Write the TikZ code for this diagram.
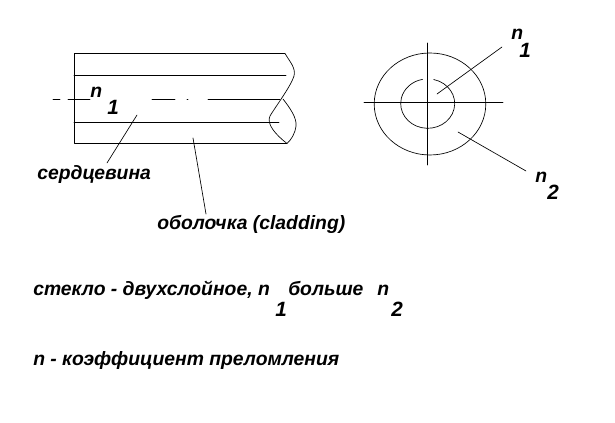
\documentclass[tikz,border=0pt]{standalone}
\usepackage{fontspec}
\setmainfont{Liberation Sans}
\tikzset{
  lbl/.style={font=\bfseries\itshape\fontsize{14.5}{16}\selectfont, inner sep=0pt, anchor=base west},
  ind/.style={font=\bfseries\itshape\fontsize{15.5}{17}\selectfont, inner sep=0pt},
  thinline/.style={line width=.65pt},
  fineline/.style={line width=.5pt}
}
\begin{document}
\begin{tikzpicture}[x=.75pt,y=-.75pt, line join=round, line cap=round]
    \useasboundingbox (0,0) rectangle (615,423);
    \def\cx{427} \def\cy{102.3} % center of the section
    % fibre, side view
    \draw[thinline] (285,53.5)--(74,53.5)--(74,143.5)--(287,143.5);
    \draw[thinline] (74,75)--(286,75);
    \draw[thinline] (74,122.5)--(279,122.5);
    \draw[thinline] (53,99.5)--(60,99.5) (68,99.5)--(90,99.5) (152,99.5)--(175,99.5)
        (187,99.5)--(188,99.5) (208,99.5)--(280,99.5);
    \draw[fineline] (285,53.5) .. controls (290,62) and (296,68) .. (294,76)
        .. controls (291,86) and (276,106) .. (270,116)
        .. controls (266,124) and (276,135) .. (287,143.5);
    \draw[fineline] (283,99) .. controls (290,108) and (297,118) .. (296,126)
        .. controls (295,134) and (291,140) .. (287,143.5);
    % fibre, cross-section
    \draw[fineline] (430,104) ellipse [x radius=55.8,y radius=51];
    \draw[fineline] (427.7,103.6) ++(283:27 and 24.7) arc [start angle=283,end angle=619,x radius=27,y radius=24.7];
    \draw[thinline] (364,\cy)--(503,\cy);
    \draw[thinline] (\cx,43)--(\cx,165);
    % labels
    \node[lbl] (nleft) at (90,98) {n};
    \node[ind] (nleftsub) at (113,107) {1};
    \node[lbl] (nright) at (511,40) {n};
    \node[ind] (nrightsub) at (525,50) {1};
    \node[lbl] (ntwo) at (535,183) {n};
    \node[ind] (ntwosub) at (553,192) {2};
    \node[lbl] (core) at (37,180) {сердцевина};
    \node[lbl] (clad) at (157,230) {оболочка (cladding)};
    \node[lbl] (lineone) at (33,296) {стекло - двухслойное, n};
    \node[ind] (lineonesub) at (281,309) {1};
    \node[lbl] (more) at (288,296) {больше};
    \node[lbl] (lineonen) at (377,296) {n};
    \node[ind] (lineonesubb) at (397,309) {2};
    \node[lbl] (linetwo) at (33,366) {n - коэффициент преломления};
    % leaders
    \coordinate (corept) at (137,115);
    \coordinate (cladpt) at (193,138);
    \coordinate (inpt) at (437,94);
    \coordinate (outpt) at (458,132);
    \draw[fineline] (corept)--(107,163);
    \draw[fineline] (cladpt)--(206,214);
    \draw[fineline] (inpt)--(502,47);
    \draw[fineline] (outpt)--(526,171);
\end{tikzpicture}
\end{document}
